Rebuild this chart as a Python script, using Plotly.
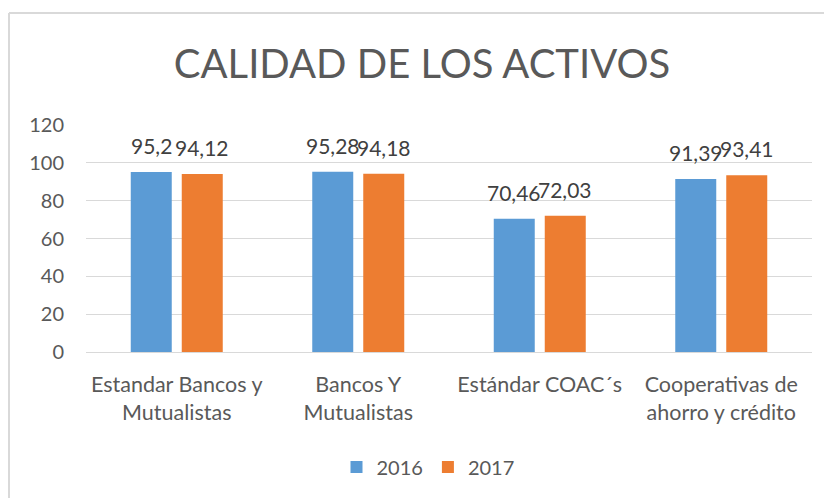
import plotly.graph_objects as go

categories = ["Estandar Bancos y<br>Mutualistas", "Bancos Y<br>Mutualistas", "Estándar COAC´s", "Cooperativas de<br>ahorro y crédito"]
series_names = ["2016", "2017"]
values_2016 = [95.2, 95.28, 70.46, 91.39]
values_2017 = [94.12, 94.18, 72.03, 93.41]
y_ticks = [0, 20, 40, 60, 80, 100, 120]
colors = ["#5B9BD5", "#ED7D31"]

FONT = "Lato"
TXT = "#595959"

# page body adds an 8px offset; layout below is in figure pixels
OFF = 8
W, H = 832 - OFF, 498 - OFF
PL, PR, PT, PB = 86 - OFF, 812 - OFF, 125 - OFF, 352 - OFF  # plot area in figure px
PW, PH = PR - PL, PB - PT


def px(x):  # screen x -> paper
    return (x - OFF - PL) / PW


def py(y):  # screen y -> paper
    return (PB - (y - OFF)) / PH


fig = go.Figure()
all_vals = [values_2016, values_2017]
for name, vals, c in zip(series_names, all_vals, colors):
    fig.add_trace(go.Bar(x=categories, y=vals, name=name, marker=dict(color=c, line=dict(width=0))))

slot = 51
for j, vals in enumerate(all_vals):
    for cat, v in zip(categories, vals):
        fig.add_annotation(x=cat, y=v, xref="x", yref="y", text=str(v).replace(".", ","),
                           showarrow=False, xshift=(j - 0.5) * slot, yshift=12, yanchor="bottom",
                           font=dict(family=FONT, size=21, color="#404040"))

# chart border (top and left edges visible)
fig.add_shape(type="line", xref="paper", yref="paper", x0=px(9), x1=px(840),
              y0=py(13), y1=py(13), line=dict(color="#D9D9D9", width=2))
fig.add_shape(type="line", xref="paper", yref="paper", x0=px(9), x1=px(9),
              y0=py(13), y1=py(510), line=dict(color="#D9D9D9", width=2))

fig.update_layout(
    width=W, height=H,
    margin=dict(l=PL, r=W - PR, t=PT, b=H - PB),
    paper_bgcolor="white", plot_bgcolor="white",
    barmode="group", bargap=0.438, bargroupgap=0.196,
    title=dict(text="CALIDAD DE LOS ACTIVOS", x=px(422), xref="paper", xanchor="center",
               y=1 - (64 - OFF) / H, yanchor="middle",
               font=dict(family=FONT, size=40, color=TXT)),
    font=dict(family=FONT, size=20, color=TXT),
    legend=dict(orientation="h", x=px(428), xanchor="center", y=py(467), yanchor="middle",
                font=dict(family=FONT, size=20, color=TXT), itemwidth=30, traceorder="normal"),
    showlegend=True,
)
fig.update_xaxes(showgrid=False, showline=True, linecolor="#D9D9D9", linewidth=1, ticks="",
                 tickfont=dict(family=FONT, size=21.5, color=TXT), ticklabelstandoff=13)
fig.update_yaxes(range=[0, 120], tickvals=y_ticks, showgrid=True, gridcolor="#D9D9D9", gridwidth=1,
                 zeroline=False, showline=False, ticks="", ticklabelstandoff=21,
                 tickfont=dict(family=FONT, size=20, color=TXT))

fig.write_html("out.html")
